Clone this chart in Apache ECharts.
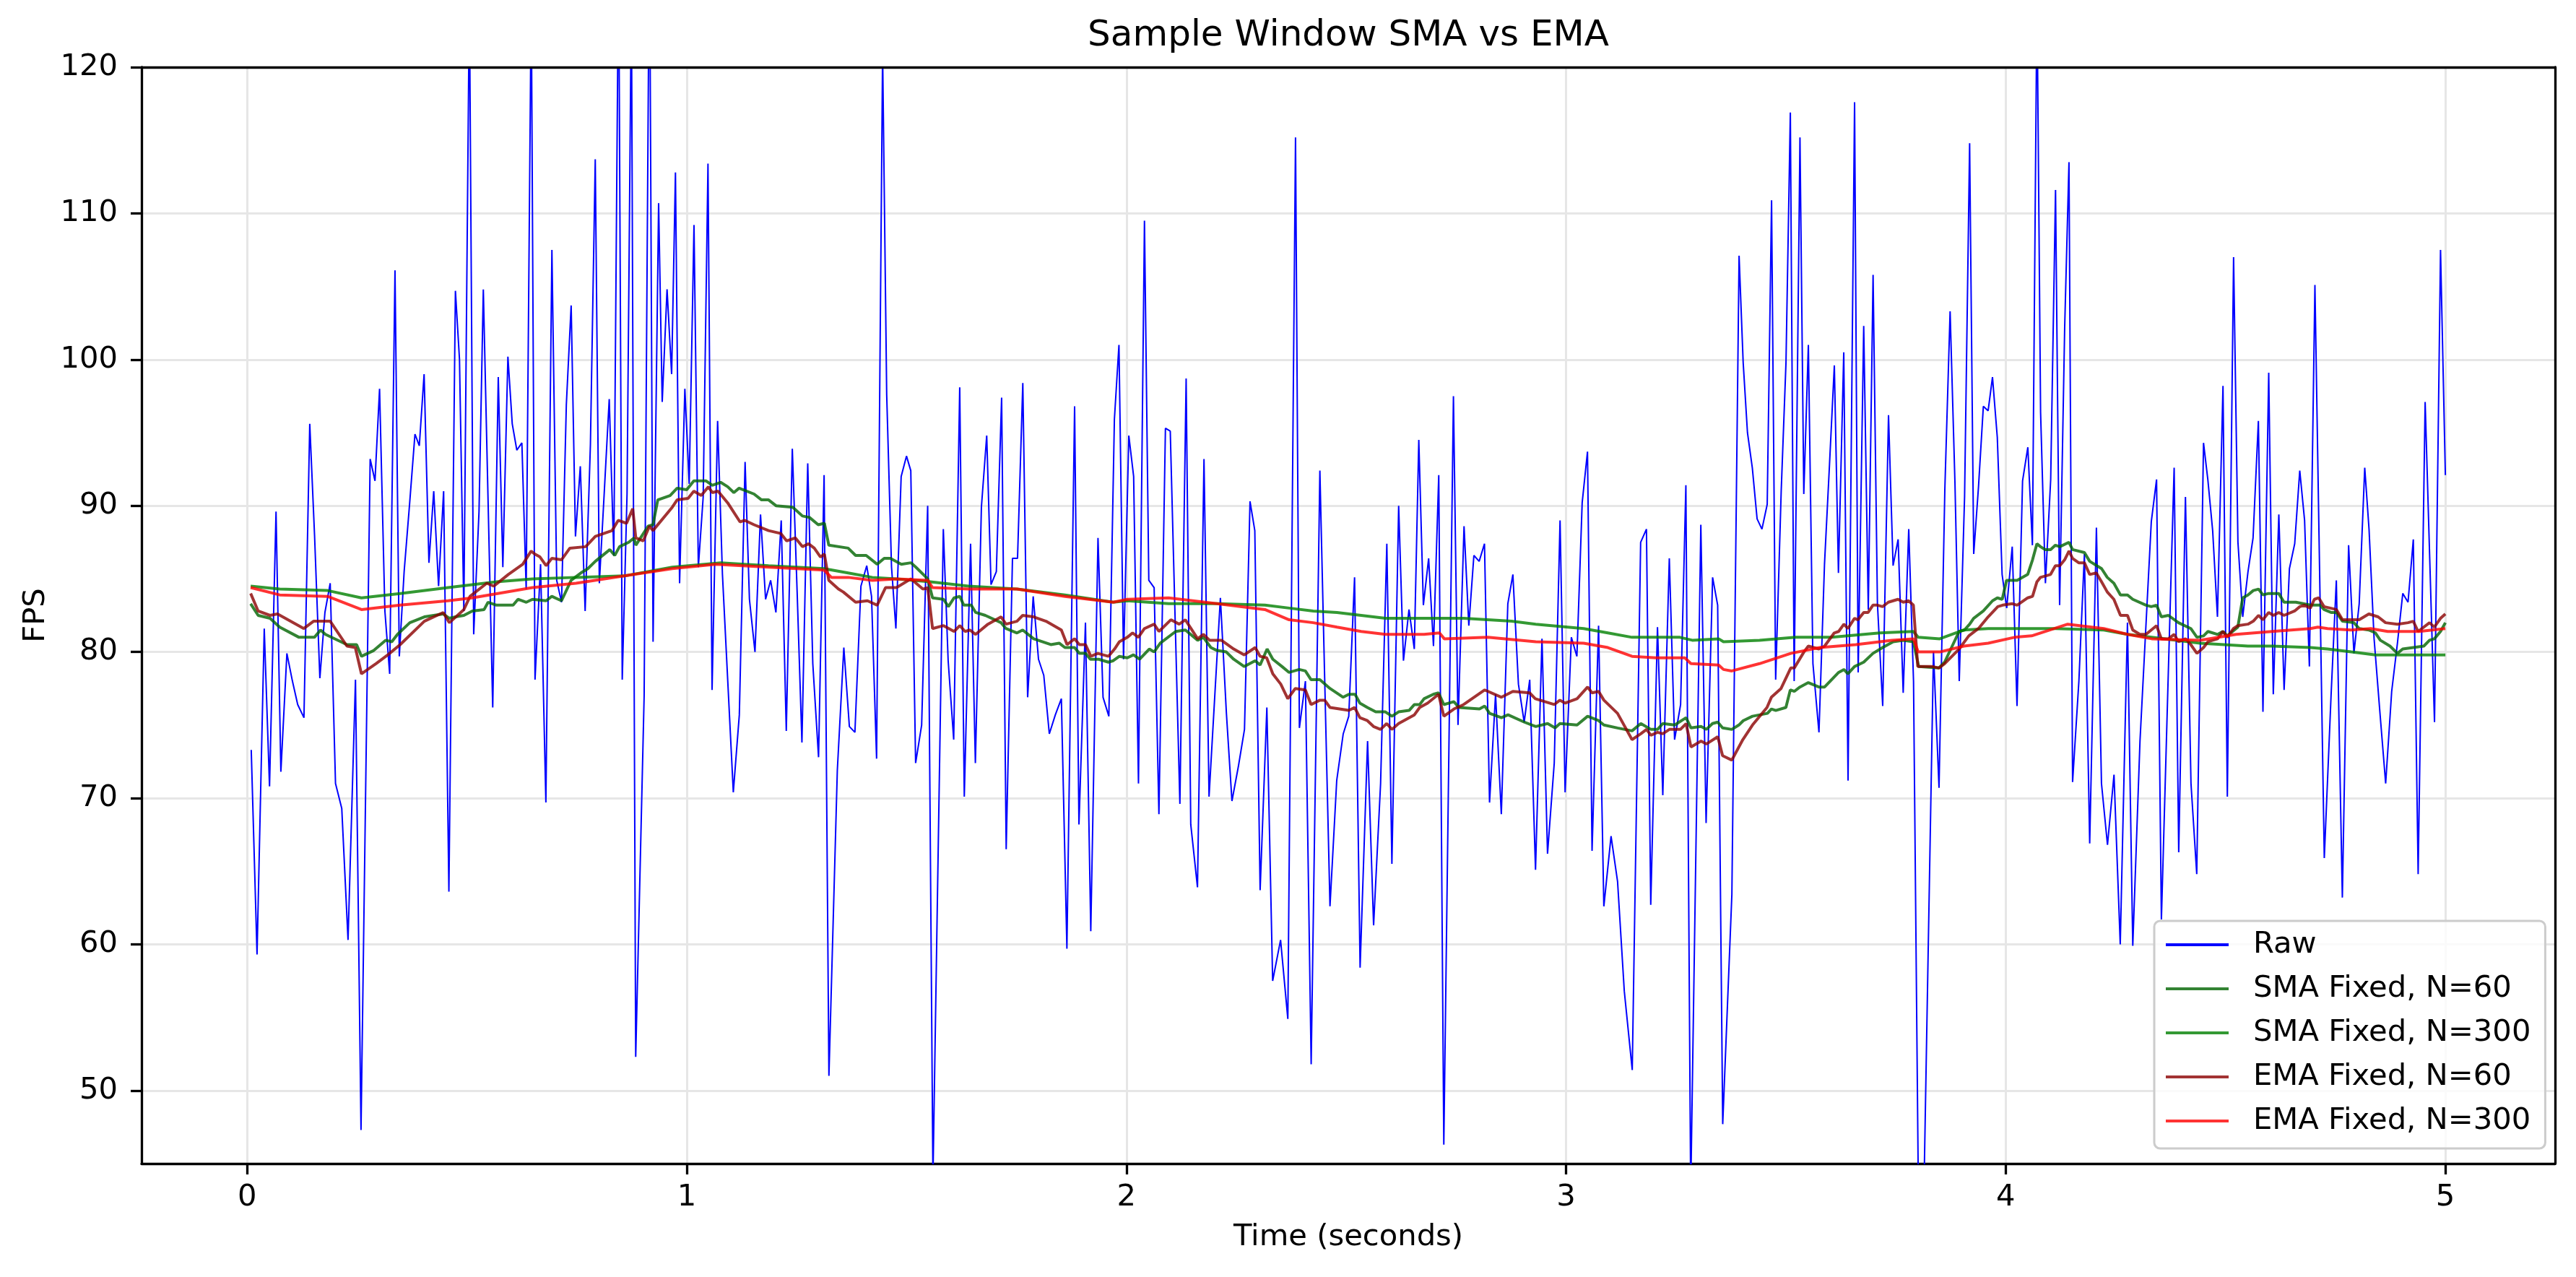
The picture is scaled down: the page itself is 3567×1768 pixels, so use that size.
<!DOCTYPE html>
<html>
<head>
<meta charset="utf-8">
<title>Sample Window SMA vs EMA</title>
<script src="https://cdn.jsdelivr.net/npm/echarts@6/dist/echarts.min.js"></script>
<style>
  html, body { margin: 0; padding: 0; background: #fff; }
  #chart { width: 3567px; height: 1768px; }
</style>
</head>
<body>
<div id="chart"></div>
<script>
// 原始帧率采样 [时间(秒), FPS]
var rawSamples = [
  [0.0093, 73.3], [0.0225, 59.3], [0.0389, 81.6], [0.0509, 70.8], [0.0657, 89.6], [0.0767, 71.8],
  [0.0904, 79.9], [0.1030, 78.0], [0.1150, 76.4], [0.1292, 75.5], [0.1424, 95.6], [0.1533, 88.0],
  [0.1654, 78.2], [0.1769, 82.7], [0.1889, 84.7], [0.2010, 71.0], [0.2152, 69.3], [0.2295, 60.3],
  [0.2464, 78.1], [0.2590, 47.3], [0.2798, 93.2], [0.2908, 91.7], [0.3012, 98.0], [0.3133, 82.8],
  [0.3242, 78.5], [0.3363, 106.1], [0.3461, 79.7], [0.3571, 85.5], [0.3697, 90.2], [0.3817, 94.9],
  [0.3916, 94.1], [0.4025, 99.0], [0.4135, 86.1], [0.4244, 91.0], [0.4354, 84.5], [0.4469, 91.0],
  [0.4589, 63.6], [0.4737, 104.7], [0.4830, 100.0], [0.4929, 82.8], [0.5055, 125], [0.5153, 81.2],
  [0.5274, 89.6], [0.5372, 104.8], [0.5586, 76.2], [0.5712, 98.8], [0.5816, 85.8], [0.5931, 100.2],
  [0.6030, 95.6], [0.6134, 93.8], [0.6249, 94.3], [0.6347, 84.3], [0.6462, 125], [0.6548, 78.1],
  [0.6674, 86.0], [0.6795, 69.7], [0.6932, 107.5], [0.7041, 84.9], [0.7151, 83.4], [0.7260, 96.9],
  [0.7370, 103.7], [0.7468, 87.9], [0.7578, 92.7], [0.7688, 82.8], [0.7808, 94.2], [0.7918, 113.7],
  [0.8011, 84.7], [0.8126, 91.1], [0.8236, 97.3], [0.8340, 86.6], [0.8449, 128], [0.8532, 78.1],
  [0.8641, 90.8], [0.8740, 125], [0.8838, 52.3], [0.9030, 77.0], [0.9151, 130], [0.9233, 80.7],
  [0.9359, 110.7], [0.9441, 97.1], [0.9551, 104.8], [0.9655, 99.0], [0.9742, 112.8], [0.9836, 84.7],
  [0.9956, 98.0], [1.0055, 91.5], [1.0164, 109.2], [1.0263, 85.8], [1.0373, 90.6], [1.0482, 113.4],
  [1.0575, 77.4], [1.0701, 95.8], [1.0811, 85.3], [1.0932, 78.0], [1.1058, 70.4], [1.1195, 75.7],
  [1.1326, 93.0], [1.1425, 83.6], [1.1551, 80.0], [1.1677, 89.4], [1.1792, 83.6], [1.1907, 84.9],
  [1.2027, 82.7], [1.2148, 89.0], [1.2263, 74.6], [1.2400, 93.9], [1.2510, 84.1], [1.2619, 73.8],
  [1.2751, 92.9], [1.2866, 79.2], [1.2997, 72.8], [1.3123, 92.1], [1.3233, 51.0], [1.3424, 71.9],
  [1.3572, 80.3], [1.3698, 74.9], [1.3824, 74.5], [1.3961, 84.5], [1.4093, 85.9], [1.4202, 83.8],
  [1.4317, 72.7], [1.4454, 121], [1.4547, 97.6], [1.4657, 85.8], [1.4756, 81.6], [1.4876, 92.0],
  [1.4997, 93.4], [1.5095, 92.4], [1.5205, 72.4], [1.5342, 75.0], [1.5479, 90.0], [1.5599, 44.0],
  [1.5835, 88.4], [1.5945, 79.4], [1.6071, 74.0], [1.6208, 98.1], [1.6312, 70.1], [1.6455, 87.4],
  [1.6564, 72.4], [1.6701, 89.9], [1.6822, 94.8], [1.6920, 84.6], [1.7041, 85.5], [1.7161, 97.4],
  [1.7265, 66.5], [1.7408, 86.4], [1.7523, 86.4], [1.7643, 98.4], [1.7753, 76.9], [1.7879, 83.8],
  [1.8000, 79.5], [1.8120, 78.4], [1.8246, 74.4], [1.8383, 75.7], [1.8520, 76.8], [1.8646, 59.7],
  [1.8821, 96.8], [1.8920, 68.2], [1.9068, 82.0], [1.9189, 60.9], [1.9353, 87.8], [1.9468, 76.9],
  [1.9600, 75.6], [1.9726, 95.9], [1.9830, 101.0], [1.9934, 79.5], [2.0054, 94.8], [2.0164, 92.0],
  [2.0274, 71.0], [2.0410, 109.5], [2.0509, 84.9], [2.0630, 84.4], [2.0739, 68.9], [2.0887, 95.3],
  [2.0997, 95.1], [2.1101, 83.0], [2.1216, 69.6], [2.1358, 98.7], [2.1463, 68.2], [2.1616, 63.9],
  [2.1764, 93.2], [2.1879, 70.1], [2.2021, 77.6], [2.2137, 83.7], [2.2274, 75.8], [2.2400, 69.8],
  [2.2548, 72.2], [2.2685, 74.7], [2.2811, 90.3], [2.2920, 88.3], [2.3041, 63.7], [2.3194, 76.2],
  [2.3326, 57.5], [2.3506, 60.3], [2.3671, 54.9], [2.3846, 115.2], [2.3934, 74.8], [2.4071, 78.0],
  [2.4202, 51.8], [2.4400, 92.4], [2.4509, 78.2], [2.4630, 62.6], [2.4783, 71.2], [2.4931, 74.4],
  [2.5057, 75.6], [2.5189, 85.1], [2.5315, 58.4], [2.5485, 73.9], [2.5622, 61.3], [2.5781, 71.0],
  [2.5923, 87.4], [2.6038, 65.5], [2.6192, 90.0], [2.6301, 79.4], [2.6427, 82.9], [2.6548, 80.2],
  [2.6650, 94.5], [2.6754, 83.2], [2.6874, 86.4], [2.6984, 80.4], [2.7104, 92.1], [2.7219, 46.3],
  [2.7438, 97.5], [2.7542, 75.0], [2.7679, 88.6], [2.7788, 81.8], [2.7903, 86.6], [2.8023, 86.2],
  [2.8144, 87.4], [2.8259, 69.7], [2.8396, 77.1], [2.8527, 68.9], [2.8675, 83.3], [2.8790, 85.3],
  [2.8916, 77.8], [2.9047, 75.2], [2.9173, 78.1], [2.9305, 65.1], [2.9452, 80.9], [2.9578, 66.2],
  [2.9731, 72.4], [2.9863, 89.0], [2.9978, 70.4], [3.0120, 81.0], [3.0246, 79.7], [3.0366, 90.2],
  [3.0487, 93.7], [3.0591, 66.4], [3.0739, 81.8], [3.0859, 62.6], [3.1023, 67.4], [3.1171, 64.3],
  [3.1324, 56.8], [3.1505, 51.4], [3.1696, 87.5], [3.1828, 88.4], [3.1926, 62.7], [3.2079, 81.7],
  [3.2200, 70.2], [3.2348, 86.4], [3.2468, 74.0], [3.2605, 76.4], [3.2725, 91.4], [3.2835, 43.0],
  [3.3065, 88.7], [3.3185, 68.3], [3.3333, 85.1], [3.3448, 83.2], [3.3563, 47.7], [3.3771, 63.4],
  [3.3935, 107.1], [3.4028, 99.8], [3.4126, 95.0], [3.4236, 92.6], [3.4345, 89.1], [3.4455, 88.4],
  [3.4575, 90.1], [3.4674, 110.9], [3.4767, 78.1], [3.4893, 91.0], [3.5002, 99.8], [3.5101, 116.9],
  [3.5188, 78.0], [3.5320, 115.2], [3.5407, 90.8], [3.5511, 101.0], [3.5615, 79.2], [3.5752, 74.5],
  [3.5878, 86.0], [3.5993, 92.9], [3.6102, 99.6], [3.6195, 85.4], [3.6316, 100.5], [3.6414, 71.2],
  [3.6562, 117.6], [3.6644, 78.6], [3.6770, 102.3], [3.6874, 82.9], [3.6983, 105.8], [3.7082, 83.3],
  [3.7202, 76.3], [3.7334, 96.2], [3.7438, 85.9], [3.7553, 87.7], [3.7668, 77.2], [3.7794, 88.4],
  [3.7903, 78.0], [3.8023, 40.0], [3.8133, 42.0], [3.8357, 80.0], [3.8483, 70.7], [3.8615, 91.1],
  [3.8735, 103.3], [3.8845, 91.6], [3.8943, 78.0], [3.9064, 90.6], [3.9179, 114.8], [3.9272, 86.7],
  [3.9381, 91.3], [3.9491, 96.8], [3.9600, 96.5], [3.9699, 98.8], [3.9808, 94.7], [3.9918, 85.3],
  [4.0022, 83.0], [4.0148, 87.2], [4.0257, 76.3], [4.0383, 91.7], [4.0503, 94.0], [4.0607, 87.3],
  [4.0711, 125], [4.0793, 96.4], [4.0903, 84.7], [4.1023, 91.8], [4.1133, 111.6], [4.1226, 83.2],
  [4.1341, 102.2], [4.1439, 113.5], [4.1521, 71.1], [4.1664, 78.0], [4.1790, 86.7], [4.1910, 66.9],
  [4.2063, 88.5], [4.2178, 71.0], [4.2315, 66.8], [4.2463, 71.6], [4.2605, 60.0], [4.2769, 82.0],
  [4.2890, 59.9], [4.3054, 73.9], [4.3191, 81.9], [4.3311, 88.9], [4.3431, 91.8], [4.3541, 61.7],
  [4.3705, 79.3], [4.3831, 92.6], [4.3935, 66.3], [4.4088, 90.6], [4.4214, 71.0], [4.4345, 64.8],
  [4.4499, 94.3], [4.4597, 91.8], [4.4707, 88.3], [4.4816, 82.4], [4.4942, 98.2], [4.5041, 70.1],
  [4.5183, 107.0], [4.5282, 87.5], [4.5391, 82.4], [4.5511, 85.5], [4.5626, 87.8], [4.5747, 95.8],
  [4.5851, 75.9], [4.5982, 99.1], [4.6086, 77.1], [4.6212, 89.4], [4.6332, 77.4], [4.6453, 85.7],
  [4.6573, 87.4], [4.6688, 92.4], [4.6798, 89.0], [4.6907, 79.0], [4.7033, 105.1], [4.7126, 88.0],
  [4.7246, 65.9], [4.7400, 77.0], [4.7520, 84.9], [4.7657, 63.2], [4.7799, 87.3], [4.7920, 79.9],
  [4.8040, 83.3], [4.8166, 92.6], [4.8264, 88.4], [4.8379, 80.9], [4.8505, 76.1], [4.8642, 71.0],
  [4.8779, 77.3], [4.8910, 80.6], [4.9031, 84.0], [4.9151, 83.4], [4.9271, 87.7], [4.9381, 64.8],
  [4.9540, 97.1], [4.9644, 86.4], [4.9753, 75.2], [4.9890, 107.5], [5.0000, 92.1]
];

// SMA 固定窗口 N=60
var smaShort = [
  [0.008, 83.3], [0.025, 82.5], [0.052, 82.3], [0.074, 81.7], [0.118, 81.0], [0.153, 81.0], [0.167, 81.5],
  [0.178, 81.2], [0.227, 80.5], [0.249, 80.5], [0.260, 79.7], [0.288, 80.1], [0.315, 80.8], [0.329, 80.7],
  [0.342, 81.2], [0.370, 82.0], [0.403, 82.4], [0.446, 82.6], [0.460, 82.3], [0.474, 82.4], [0.493, 82.5],
  [0.512, 82.8], [0.539, 82.9], [0.548, 83.4], [0.567, 83.2], [0.605, 83.2], [0.616, 83.6], [0.635, 83.4],
  [0.649, 83.6], [0.680, 83.5], [0.693, 83.8], [0.715, 83.5], [0.737, 84.9], [0.759, 85.4], [0.775, 85.7],
  [0.792, 86.2], [0.825, 87.0], [0.836, 86.6], [0.847, 87.2], [0.868, 87.5], [0.880, 87.8], [0.884, 87.3],
  [0.912, 88.6], [0.923, 88.7], [0.934, 90.4], [0.962, 90.7], [0.978, 91.2], [1.000, 91.1], [1.016, 91.7],
  [1.044, 91.7], [1.058, 91.4], [1.077, 91.6], [1.093, 91.3], [1.107, 90.9], [1.119, 91.2], [1.153, 90.8],
  [1.170, 90.4], [1.186, 90.4], [1.203, 90.0], [1.241, 89.9], [1.263, 89.3], [1.279, 89.2], [1.299, 88.7],
  [1.313, 88.8], [1.323, 87.3], [1.367, 87.1], [1.384, 86.6], [1.408, 86.6], [1.433, 86.0], [1.449, 86.4],
  [1.463, 86.4], [1.488, 86.0], [1.510, 86.1], [1.521, 85.8], [1.548, 85.0], [1.559, 83.7], [1.584, 83.6],
  [1.595, 83.1], [1.608, 83.7], [1.621, 83.8], [1.630, 83.2], [1.647, 83.2], [1.657, 82.7], [1.679, 82.5],
  [1.715, 82.0], [1.726, 81.6], [1.751, 81.3], [1.764, 81.5], [1.789, 80.9], [1.828, 80.5], [1.847, 80.6],
  [1.860, 80.3], [1.882, 80.3], [1.893, 79.9], [1.907, 79.9], [1.918, 79.5], [1.937, 79.5], [1.959, 79.3],
  [1.970, 79.4], [1.984, 79.7], [2.002, 79.6], [2.016, 79.8], [2.030, 79.5], [2.052, 80.2], [2.063, 80.0],
  [2.077, 80.6], [2.112, 81.4], [2.134, 81.5], [2.162, 80.8], [2.175, 81.0], [2.192, 80.3], [2.206, 80.1],
  [2.227, 80.0], [2.244, 79.5], [2.268, 79.0], [2.293, 79.4], [2.304, 79.1], [2.320, 80.2], [2.333, 79.5],
  [2.354, 79.0], [2.370, 78.6], [2.393, 78.8], [2.407, 78.7], [2.420, 78.1], [2.440, 78.1], [2.463, 77.5],
  [2.493, 76.9], [2.506, 77.1], [2.520, 77.1], [2.531, 76.5], [2.548, 76.2], [2.567, 75.9], [2.589, 75.9],
  [2.604, 75.6], [2.619, 75.9], [2.643, 76.0], [2.655, 76.4], [2.667, 76.4], [2.677, 76.8], [2.698, 77.1],
  [2.710, 77.2], [2.722, 76.4], [2.745, 76.6], [2.756, 76.2], [2.803, 76.1], [2.815, 76.3], [2.826, 75.8],
  [2.853, 75.5], [2.868, 75.7], [2.905, 75.2], [2.931, 74.9], [2.958, 75.1], [2.975, 74.8], [2.986, 75.1],
  [3.025, 75.0], [3.049, 75.6], [3.074, 75.3], [3.086, 75.0], [3.117, 74.8], [3.150, 74.6], [3.170, 75.1],
  [3.193, 74.7], [3.208, 74.7], [3.220, 75.1], [3.247, 75.0], [3.273, 75.5], [3.284, 74.8], [3.307, 74.9],
  [3.319, 74.7], [3.333, 75.1], [3.345, 75.2], [3.356, 74.8], [3.377, 74.7], [3.393, 75.0], [3.403, 75.3],
  [3.424, 75.6], [3.458, 75.8], [3.467, 76.1], [3.477, 76.0], [3.500, 76.2], [3.510, 77.4], [3.519, 77.3],
  [3.532, 77.6], [3.551, 77.9], [3.575, 77.6], [3.588, 77.6], [3.620, 78.6], [3.632, 78.8], [3.641, 78.5],
  [3.656, 79.0], [3.677, 79.3], [3.698, 79.9], [3.720, 80.3], [3.744, 80.7], [3.767, 80.8], [3.790, 80.7],
  [3.802, 79.0], [3.848, 78.9], [3.861, 79.3], [3.894, 81.4], [3.906, 81.5], [3.918, 81.9], [3.927, 82.3],
  [3.949, 82.8], [3.970, 83.5], [3.981, 83.7], [3.992, 83.6], [4.002, 84.9], [4.026, 84.9], [4.050, 85.3],
  [4.061, 86.3], [4.071, 87.4], [4.079, 87.2], [4.090, 87.0], [4.102, 87.0], [4.113, 87.3], [4.123, 87.2],
  [4.144, 87.5], [4.152, 87.0], [4.179, 86.8], [4.191, 86.2], [4.218, 85.7], [4.231, 85.1], [4.246, 84.7],
  [4.261, 83.9], [4.277, 83.9], [4.289, 83.6], [4.319, 83.2], [4.331, 83.1], [4.343, 83.2], [4.354, 82.4],
  [4.370, 82.5], [4.393, 82.0], [4.421, 81.6], [4.435, 81.0], [4.450, 81.1], [4.460, 81.4], [4.482, 81.2],
  [4.494, 81.4], [4.504, 81.1], [4.528, 81.7], [4.539, 83.7], [4.551, 83.9], [4.563, 84.2], [4.575, 84.3],
  [4.585, 83.9], [4.598, 84.0], [4.621, 84.0], [4.633, 83.4], [4.660, 83.4], [4.693, 83.2], [4.715, 83.2],
  [4.724, 82.9], [4.740, 82.7], [4.752, 82.7], [4.766, 82.1], [4.792, 82.0], [4.804, 81.6], [4.826, 81.5],
  [4.841, 81.3], [4.852, 80.8], [4.874, 80.4], [4.891, 79.9], [4.903, 80.2], [4.927, 80.3], [4.951, 80.4],
  [4.964, 80.8], [4.975, 80.9], [4.989, 81.4], [5.000, 82.0]
];

// SMA 固定窗口 N=300
var smaLong = [
  [0.008, 84.5], [0.074, 84.3], [0.183, 84.2], [0.260, 83.7], [0.348, 84.0], [0.457, 84.4], [0.567, 84.8],
  [0.649, 85.0], [0.748, 85.1], [0.858, 85.2], [0.967, 85.8], [1.077, 86.1], [1.186, 85.9], [1.312, 85.7],
  [1.367, 85.4], [1.422, 85.1], [1.477, 85.0], [1.554, 84.8], [1.641, 84.5], [1.751, 84.3], [1.860, 83.9],
  [1.970, 83.4], [2.002, 83.5], [2.096, 83.3], [2.206, 83.3], [2.315, 83.2], [2.370, 83.0], [2.425, 82.8],
  [2.479, 82.7], [2.534, 82.5], [2.589, 82.3], [2.677, 82.3], [2.767, 82.3], [2.876, 82.1], [2.931, 81.9],
  [3.040, 81.6], [3.095, 81.3], [3.150, 81.0], [3.259, 81.0], [3.287, 80.8], [3.347, 80.9], [3.358, 80.7],
  [3.440, 80.8], [3.522, 81.0], [3.604, 81.0], [3.714, 81.3], [3.790, 81.4], [3.801, 81.0], [3.850, 80.9],
  [3.905, 81.5], [3.960, 81.6], [4.020, 81.6], [4.113, 81.6], [4.223, 81.5], [4.277, 81.2], [4.332, 81.0],
  [4.442, 80.6], [4.551, 80.4], [4.606, 80.4], [4.693, 80.3], [4.732, 80.2], [4.786, 80.0], [4.841, 79.8],
  [4.951, 79.8], [5.000, 79.8]
];

// EMA 固定 N=60
var emaShort = [
  [0.008, 84.0], [0.025, 82.8], [0.052, 82.5], [0.069, 82.6], [0.129, 81.6], [0.151, 82.1], [0.189, 82.1],
  [0.227, 80.4], [0.246, 80.3], [0.260, 78.5], [0.293, 79.2], [0.320, 79.8], [0.348, 80.5], [0.403, 82.1],
  [0.446, 82.7], [0.460, 82.0], [0.493, 82.9], [0.507, 83.8], [0.545, 84.7], [0.561, 84.5], [0.594, 85.3],
  [0.627, 86.0], [0.646, 86.9], [0.654, 86.7], [0.666, 86.5], [0.680, 85.9], [0.693, 86.4], [0.715, 86.3],
  [0.734, 87.1], [0.770, 87.2], [0.792, 87.9], [0.830, 88.3], [0.844, 89.0], [0.863, 88.8], [0.877, 89.8],
  [0.884, 87.8], [0.901, 87.6], [0.915, 88.6], [0.923, 88.3], [0.967, 89.9], [0.978, 90.4], [1.003, 90.5],
  [1.016, 91.0], [1.033, 90.7], [1.049, 91.3], [1.058, 90.9], [1.071, 91.0], [1.093, 90.2], [1.121, 88.9],
  [1.132, 89.0], [1.153, 88.7], [1.186, 88.3], [1.214, 88.1], [1.227, 87.6], [1.247, 87.8], [1.263, 87.2],
  [1.277, 87.4], [1.290, 87.1], [1.304, 86.5], [1.313, 86.7], [1.323, 84.9], [1.345, 84.3], [1.356, 84.1],
  [1.384, 83.4], [1.411, 83.5], [1.433, 83.2], [1.452, 84.4], [1.477, 84.4], [1.510, 85.0], [1.537, 84.3],
  [1.548, 84.4], [1.559, 81.6], [1.584, 81.8], [1.608, 81.4], [1.621, 81.8], [1.633, 81.4], [1.644, 81.5],
  [1.657, 81.2], [1.685, 81.9], [1.715, 82.4], [1.726, 81.9], [1.751, 82.1], [1.764, 82.5], [1.789, 82.4],
  [1.817, 82.1], [1.852, 81.5], [1.865, 80.5], [1.882, 80.9], [1.893, 80.5], [1.907, 80.5], [1.919, 79.7],
  [1.935, 79.9], [1.959, 79.7], [1.973, 80.2], [1.984, 80.7], [2.002, 81.0], [2.014, 81.3], [2.027, 81.0],
  [2.041, 81.6], [2.063, 81.9], [2.074, 81.4], [2.101, 82.2], [2.120, 81.9], [2.134, 82.2], [2.162, 80.9],
  [2.175, 81.2], [2.189, 80.8], [2.216, 80.8], [2.244, 80.2], [2.268, 79.8], [2.293, 80.3], [2.304, 79.7],
  [2.319, 79.6], [2.333, 78.5], [2.351, 77.8], [2.367, 76.8], [2.384, 77.5], [2.407, 77.4], [2.420, 76.4],
  [2.440, 76.7], [2.451, 76.7], [2.463, 76.2], [2.506, 76.0], [2.519, 76.2], [2.531, 75.5], [2.548, 75.3],
  [2.562, 74.9], [2.578, 74.7], [2.592, 75.1], [2.604, 74.7], [2.619, 75.1], [2.655, 75.7], [2.667, 76.2],
  [2.685, 76.5], [2.710, 77.1], [2.722, 75.6], [2.745, 76.1], [2.767, 76.4], [2.815, 77.4], [2.853, 76.9],
  [2.879, 77.3], [2.917, 77.2], [2.930, 76.8], [2.973, 76.4], [2.986, 76.7], [2.998, 76.5], [3.025, 76.8],
  [3.049, 77.6], [3.059, 77.2], [3.074, 77.3], [3.086, 76.7], [3.117, 75.8], [3.150, 74.0], [3.170, 74.4],
  [3.183, 74.7], [3.193, 74.3], [3.208, 74.5], [3.220, 74.4], [3.235, 74.7], [3.260, 74.7], [3.273, 75.1],
  [3.284, 73.5], [3.307, 73.9], [3.319, 73.7], [3.345, 74.2], [3.356, 72.9], [3.377, 72.6], [3.402, 74.0],
  [3.424, 75.0], [3.457, 76.2], [3.467, 76.9], [3.489, 77.5], [3.511, 78.9], [3.519, 78.9], [3.541, 80.0],
  [3.551, 80.4], [3.575, 80.2], [3.588, 80.4], [3.610, 81.3], [3.620, 81.4], [3.632, 81.9], [3.641, 81.6],
  [3.656, 82.3], [3.664, 82.2], [3.677, 82.7], [3.687, 82.7], [3.698, 83.2], [3.708, 83.2], [3.720, 83.1],
  [3.733, 83.4], [3.755, 83.6], [3.767, 83.4], [3.779, 83.5], [3.790, 83.2], [3.800, 79.0], [3.834, 79.0],
  [3.848, 78.9], [3.861, 79.2], [3.894, 80.2], [3.916, 81.1], [3.938, 81.6], [3.960, 82.4], [3.982, 83.1],
  [3.993, 83.2], [4.015, 83.3], [4.026, 83.2], [4.050, 83.7], [4.061, 83.8], [4.071, 84.8], [4.079, 85.1],
  [4.102, 85.3], [4.113, 85.9], [4.123, 85.9], [4.134, 86.3], [4.144, 86.9], [4.152, 86.4], [4.166, 86.1],
  [4.179, 86.1], [4.191, 85.3], [4.206, 85.4], [4.218, 84.8], [4.231, 84.1], [4.246, 83.6], [4.261, 82.5],
  [4.277, 82.5], [4.289, 81.5], [4.305, 81.2], [4.319, 81.2], [4.343, 81.8], [4.354, 80.9], [4.370, 80.9],
  [4.383, 81.2], [4.393, 80.7], [4.409, 80.9], [4.421, 80.5], [4.435, 79.9], [4.450, 80.3], [4.460, 80.7],
  [4.482, 80.9], [4.494, 81.4], [4.504, 81.0], [4.518, 81.6], [4.528, 81.8], [4.551, 81.9], [4.563, 82.1],
  [4.575, 82.5], [4.585, 82.2], [4.598, 82.7], [4.609, 82.5], [4.621, 82.7], [4.633, 82.5], [4.657, 82.8],
  [4.669, 83.1], [4.679, 83.2], [4.693, 83.0], [4.702, 83.6], [4.712, 83.7], [4.724, 83.1], [4.752, 82.9],
  [4.766, 82.2], [4.804, 82.2], [4.826, 82.6], [4.847, 82.4], [4.864, 82.0], [4.891, 81.9], [4.915, 82.0],
  [4.927, 82.1], [4.938, 81.4], [4.964, 82.0], [4.975, 81.7], [4.989, 82.3], [5.000, 82.6]
];

// EMA 固定 N=300
var emaLong = [
  [0.008, 84.4], [0.074, 83.9], [0.183, 83.8], [0.260, 82.9], [0.348, 83.2], [0.457, 83.5], [0.512, 83.7],
  [0.649, 84.4], [0.748, 84.7], [0.858, 85.2], [0.967, 85.7], [1.066, 86.0], [1.186, 85.8], [1.312, 85.6],
  [1.329, 85.1], [1.367, 85.1], [1.422, 84.9], [1.477, 85.0], [1.548, 84.9], [1.559, 84.4], [1.641, 84.3],
  [1.751, 84.3], [1.860, 83.8], [1.970, 83.4], [2.002, 83.6], [2.096, 83.7], [2.151, 83.5], [2.206, 83.3],
  [2.315, 82.9], [2.370, 82.2], [2.425, 82.0], [2.479, 81.7], [2.534, 81.4], [2.589, 81.2], [2.677, 81.2],
  [2.712, 81.3], [2.723, 80.9], [2.822, 81.0], [2.931, 80.7], [3.040, 80.6], [3.095, 80.3], [3.150, 79.7],
  [3.205, 79.6], [3.270, 79.6], [3.284, 79.2], [3.347, 79.1], [3.358, 78.8], [3.377, 78.7], [3.440, 79.2],
  [3.511, 79.9], [3.577, 80.3], [3.659, 80.5], [3.741, 80.8], [3.790, 80.9], [3.801, 80.0], [3.850, 80.0],
  [3.905, 80.4], [3.960, 80.6], [4.020, 81.0], [4.059, 81.1], [4.141, 81.9], [4.223, 81.6], [4.277, 81.2],
  [4.332, 80.9], [4.442, 80.8], [4.524, 81.2], [4.606, 81.4], [4.693, 81.6], [4.710, 81.7], [4.732, 81.6],
  [4.786, 81.5], [4.830, 81.6], [4.869, 81.4], [4.940, 81.4], [5.000, 81.6]
];

var seriesNames = ["Raw", "SMA Fixed, N=60", "SMA Fixed, N=300", "EMA Fixed, N=60", "EMA Fixed, N=300"];
var xTicks = [0, 1, 2, 3, 4, 5];
var yTicks = [50, 60, 70, 80, 90, 100, 110, 120];

(function () {
  var myChart = echarts.init(document.getElementById("chart"));
  var font = "DejaVu Sans";
  var xMin = -0.2402, xMax = 5.2495, yMin = 45, yMax = 120;

  function lineSeries(name, data, color, width) {
    return {
      name: name,
      type: "line",
      data: data,
      symbol: "none",
      showSymbol: false,
      clip: true,
      color: color,
      lineStyle: { color: color, width: width },
      emphasis: { disabled: true }
    };
  }

  // 上边框和右边框：只画轴线的辅助坐标轴
  function frameAxis(position, min, max) {
    return {
      type: "value",
      position: position,
      min: min,
      max: max,
      z: 5,
      axisLine: { show: true, onZero: false, lineStyle: { color: "#000", width: 3.3 } },
      axisTick: { show: false },
      axisLabel: { show: false },
      splitLine: { show: false }
    };
  }

  var option = {
    animation: false,
    backgroundColor: "#ffffff",
    textStyle: { fontFamily: font, color: "#000" },
    title: {
      text: "Sample Window SMA vs EMA",
      left: 1867,
      top: 25,
      padding: 0,
      textAlign: "center",
      textStyle: { fontFamily: font, fontSize: 50, fontWeight: "normal", color: "#000" }
    },
    grid: {
      left: 196,
      right: 29,
      top: 93,
      bottom: 157,
      containLabel: false
    },
    legend: {
      data: seriesNames,
      orient: "vertical",
      left: 2983,
      top: 1275,
      itemWidth: 87,
      itemHeight: 14,
      itemGap: 13,
      padding: [9, 20, 14, 14],
      backgroundColor: "rgba(255,255,255,0.8)",
      borderColor: "#cccccc",
      borderWidth: 3,
      borderRadius: 8,
      selectedMode: false,
      // 只保留图例中的线段，隐藏中间的圆点
      itemStyle: { opacity: 0 },
      lineStyle: { width: 4 },
      textStyle: {
        fontFamily: font,
        fontSize: 41.7,
        lineHeight: 48,
        color: "#000",
        padding: [0, 0, 0, 29]
      }
    },
    xAxis: [{
      type: "value",
      min: xMin,
      max: xMax,
      splitNumber: 5,
      name: "Time (seconds)",
      nameLocation: "middle",
      nameGap: 81,
      nameTextStyle: { fontFamily: font, fontSize: 41.7, color: "#000" },
      axisLine: { show: true, onZero: false, lineStyle: { color: "#000", width: 3.3 } },
      axisTick: { show: true, customValues: xTicks, length: 15, lineStyle: { color: "#000", width: 3.3 } },
      axisLabel: {
        customValues: xTicks,
        margin: 26,
        fontFamily: font,
        fontSize: 41.7,
        color: "#000"
      },
      splitLine: { show: true, lineStyle: { color: "#e6e6e6", width: 3 } }
    }, frameAxis("top", xMin, xMax)],
    yAxis: [{
      type: "value",
      min: yMin,
      max: yMax,
      splitNumber: 7,
      name: "FPS",
      nameLocation: "middle",
      nameRotate: 90,
      nameGap: 125,
      nameTextStyle: { fontFamily: font, fontSize: 41.7, color: "#000" },
      axisLine: { show: true, onZero: false, lineStyle: { color: "#000", width: 3.3 } },
      axisTick: { show: true, customValues: yTicks, length: 15, lineStyle: { color: "#000", width: 3.3 } },
      axisLabel: {
        customValues: yTicks,
        margin: 33,
        fontFamily: font,
        fontSize: 41.7,
        color: "#000"
      },
      splitLine: { show: true, lineStyle: { color: "#e6e6e6", width: 3 } }
    }, frameAxis("right", yMin, yMax)],
    series: [
      lineSeries(seriesNames[0], rawSamples, "#0000ff", 2),
      lineSeries(seriesNames[1], smaShort, "rgba(0,100,0,0.8)", 4),
      lineSeries(seriesNames[2], smaLong, "rgba(0,128,0,0.8)", 4),
      lineSeries(seriesNames[3], emaShort, "rgba(139,0,0,0.8)", 4),
      lineSeries(seriesNames[4], emaLong, "rgba(255,0,0,0.8)", 4)
    ]
  };

  myChart.setOption(option);
  window.addEventListener("resize", function () {
    myChart.resize();
  });
})();
</script>
</body>
</html>
